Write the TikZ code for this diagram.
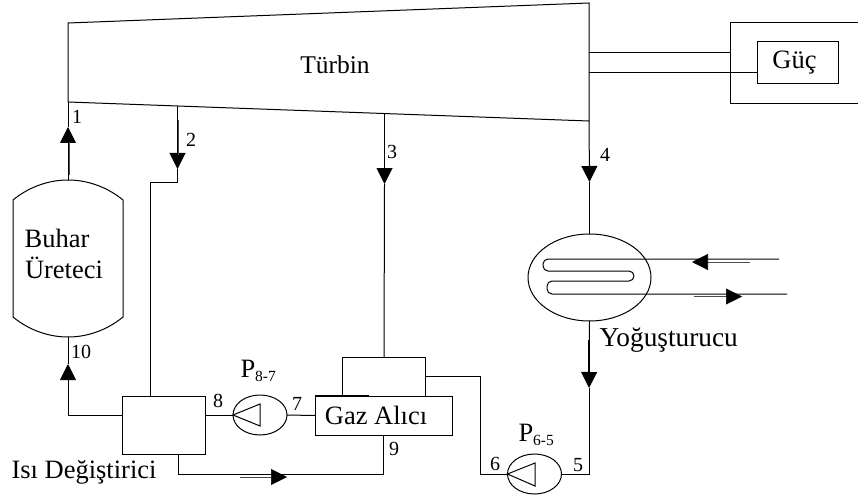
\documentclass[tikz,border=0pt]{standalone}
\usepackage{fontspec}
\setmainfont{Liberation Serif}
\usetikzlibrary{shapes, arrows.meta}
\newcommand{\bigtxt}{\fontsize{26.5}{29}\selectfont}
\newcommand{\smalltxt}{\fontsize{20}{22}\selectfont}
\newcommand{\subtxt}{\fontsize{15.5}{17}\selectfont}
\begin{document}
\begin{tikzpicture}[x=1pt,y=-1pt,line width=1pt,
 box/.style={draw, rectangle, inner sep=0pt, outer sep=0pt, minimum width=#1},
 pump/.style={draw, ellipse, inner sep=0pt, outer sep=0pt, minimum width=54pt, minimum height=40pt},
 txt/.style={inner sep=0pt, font=\bigtxt},
 num/.style={inner sep=0pt, font=\smalltxt},
 flow/.style={-{Triangle[length=16pt,width=16pt]}},
 dirflow/.style={line width=0.6pt, black!70, -{Triangle[length=16pt,width=16pt,color=black,fill=black]}},
 shank/.style={line width=0.6pt, black!70}]
 \useasboundingbox (0,0) rectangle (858,497);
 % turbine
 \coordinate (tl) at (68,23);
 \coordinate (tr) at (589,3);
 \coordinate (br) at (589,121);
 \coordinate (bl) at (68,102);
 \draw (tl)--(tr)--(br)--(bl)--cycle;
 \node[txt, font=\fontsize{25.5}{29}\selectfont] (turbin) at (335,65) {Türbin};
 % power
 \node[box=81.5pt, minimum height=42pt] (guc) at (798,63) {};
 \node[txt] (guclabel) at (794.5,63) {Güç};
 \coordinate (sh1) at (589,53);
 \coordinate (sh2) at (589,73);
 \draw (858,22.5)-|(730,104)--(858,104);
 \draw (sh1)--(730,53);
 \draw (sh2)--(guc.west |- sh2);
 % steam generator
 \coordinate (sgt) at (68,180);
 \coordinate (sgb) at (68,337);
 \draw (13,200) .. controls (30,186) and (50,180) .. (sgt) .. controls (86,180) and (106,186) .. (123,200)
  -- (123,317) .. controls (106,331) and (86,337) .. (sgb) .. controls (50,337) and (30,331) .. (13,317) -- cycle;
 \node[txt] (buhar) at (57,238) {Buhar};
 \node[txt] (ureteci) at (64,268) {Üreteci};
 % heat exchanger, gas tank
 \node[box=82.5pt, minimum height=58pt] (isi) at (164,425) {};
 \node[box=137pt, minimum height=39pt] (gaz) at (383.5,415.5) {};
 \node[txt] (gazlabel) at (376,415.5) {Gaz Alıcı};
 \node[box=82.5pt, minimum height=39pt, anchor=south] (ust) at (384,396) {};
 \draw[line width=1.6pt] (gaz.north west)--(369,396);
 \node[txt, anchor=west] (isilabel) at (11,472) {Isı Değiştirici};
 % pumps
 \node[pump] (p87) at (260,415) {};
 \node[pump] (p65) at (534.5,474) {};
 \draw (p87.west)--(260,404)--(260,426)--cycle;
 \draw (p65.west)--(535,463)--(535,486)--cycle;
 \node[txt, anchor=west] (p87label) at (240,371) {P\raisebox{-4pt}{\subtxt 8-7}};
 \node[txt, anchor=west] (p65label) at (518,435) {P\raisebox{-4pt}{\subtxt 6-5}};
 % condenser
 \node[draw, ellipse, inner sep=0pt, outer sep=0pt, minimum width=123pt, minimum height=87pt] (yog) at (589.5,277.5) {};
 \draw[rounded corners=5pt] (779,259)--(543,259)--(543,271)--(634,271)--(634,281)--(547,281)--(547,294)--(787,294);
 \node[txt, anchor=west] (yoglabel) at (599,340) {\fontsize{27.3}{29}\selectfont Yoğuşturucu};
 % connectors
 \draw[flow] (sgt)--(68,127);
 \draw (68,127)--(bl);
 \draw[shank] (69,175)--(69,142);
 \draw[flow] (177.5,106)--(177.5,169);
 \draw (177.5,169)--(177.5,182)--(150,182)--(150,396);
 \draw[shank] (178.5,120)--(178.5,155);
 \draw[flow] (384.5,114)--(384.5,184);
 \draw (384.5,184)--(ust.north);
 \draw[flow] (br)--(589.5,182);
 \draw (589.5,182)--(yog.north);
 \draw[flow] (yog.south)--(589,388);
 \draw[line width=1.3pt] (589,340)--(589,372);
 \draw (589,388)--(589,474)--(p65.east);
 \draw (p65.west)--(480,474)--(480,376)--(425,376);
 \draw[flow] (isi.west |- p87.west)-|(68,364);
 \draw (68,364)--(sgb);
 \draw (isi.east |- p87.west)--(p87.west);
 \draw (p87.east)--(gaz.west);
 \draw (gaz.south)--(383.5,474)--(178,474)--(178,454);
 % direction marks
 \draw[dirflow] (750,262)--(692,262);
 \draw[dirflow] (694,296.5)--(742,296.5);
 \draw[dirflow] (240,477)--(287,477);
 % state numbers
 \node[num] (n1) at (77,117) {1};
 \node[num] (n2) at (191,140) {2};
 \node[num] (n3) at (392,152) {3};
 \node[num] (n4) at (605,155) {4};
 \node[num] (n5) at (578,465) {5};
 \node[num] (n6) at (495,464) {6};
 \node[num] (n7) at (297,404) {7};
 \node[num] (n8) at (218,401) {8};
 \node[num] (n9) at (394,449) {9};
 \node[num] (n10) at (81,352) {10};
\end{tikzpicture}
\end{document}
